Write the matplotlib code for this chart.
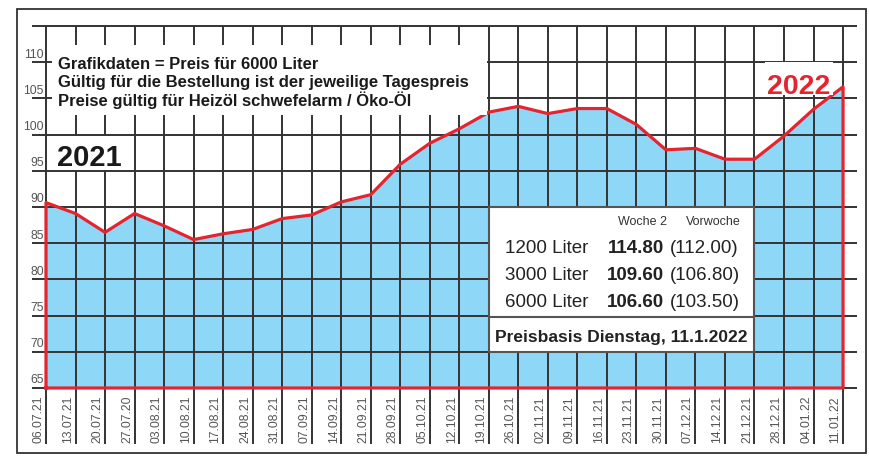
import matplotlib
matplotlib.use('Agg')
import matplotlib.pyplot as plt
from matplotlib.patches import Rectangle
from matplotlib.transforms import Affine2D

# Heizoelpreise, Preis fuer 6000 Liter
dates = ['06.07.21', '13.07.21', '20.07.21', '27.07.20', '03.08.21', '10.08.21',
         '17.08.21', '24.08.21', '31.08.21', '07.09.21', '14.09.21', '21.09.21',
         '28.09.21', '05.10.21', '12.10.21', '19.10.21', '26.10.21', '02.11.21',
         '09.11.21', '16.11.21', '23.11.21', '30.11.21', '07.12.21', '14.12.21',
         '21.12.21', '28.12.21', '04.01.22', '11.01.22']
prices = [90.6, 89.1, 86.5, 89.1, 87.4, 85.5, 86.3, 86.9, 88.4, 88.9, 90.7, 91.7,
          95.9, 98.8, 100.8, 103.1, 103.9, 102.9, 103.6, 103.6, 101.4, 97.9, 98.1,
          96.6, 96.6, 99.8, 103.5, 106.6]
y_ticks = [65, 70, 75, 80, 85, 90, 95, 100, 105, 110]
y_top = 115

mengen = ['1200 Liter', '3000 Liter', '6000 Liter']
woche2 = ['114.80', '109.60', '106.60']
vorwoche = ['(112.00)', '(106.80)', '(103.50)']

header = ['Grafikdaten = Preis für 6000 Liter',
          'Gültig für die Bestellung ist der jeweilige Tagespreis',
          'Preise gültig für Heizöl schwefelarm / Öko-Öl']

W, H = 870, 460
X0, DX = 46, 29.52      # pixel of first date, pixels per week
Y0, DY = 389, 7.24      # pixel of 65, pixels per unit

BLUE = '#8fd7f7'
RED = '#e42530'
GRID = '#333333'
GRAY = '#555555'
cond = ['Liberation Sans Narrow', 'Liberation Sans', 'DejaVu Sans']
reg = ['Liberation Sans', 'DejaVu Sans']


def px(p):
    return (p - X0) / DX


def py(p):
    return 65 + (Y0 - p) / DY


fig = plt.figure(figsize=(W / 100, H / 100), dpi=100)
ax = fig.add_axes([0, 0, 1, 1])
ax.set_xlim(px(0), px(W))
ax.set_ylim(py(H), py(0))
ax.axis('off')

# pixel coordinates, origin top-left (for frames and labels)
tp = Affine2D().scale(1 / W, -1 / H).translate(0, 1) + fig.transFigure

x = list(range(len(prices)))
ax.fill_between(x, prices, 65, color=BLUE, lw=0, zorder=1)

for v in y_ticks + [y_top]:
    ax.hlines(v, px(32), px(857), color=GRID, lw=1.4, zorder=2)
for i in x:
    ax.vlines(i, py(445), y_top, color=GRID, lw=1.4, zorder=2)

xs = [0] + x + [x[-1], 0]
ys = [65] + prices + [65, 65]
ax.plot(xs, ys, color=RED, lw=2.3, zorder=3, solid_joinstyle='round')

for v in y_ticks:
    ax.text(px(44), v + 0.35, str(v), ha='right', va='bottom',
            fontsize=8.8, color=GRAY, family=cond, zorder=4)
for i, d in enumerate(dates):
    ax.text(i - 1.5 / DX, py(443), d, rotation=90, ha='right', va='bottom',
            fontsize=8.8, color=GRAY, family=cond, zorder=4)

# white boxes over the grid
ax.add_patch(Rectangle((52, 46), 435, 70, transform=tp, fc='white', ec='none', zorder=5))
ax.add_patch(Rectangle((52, 137), 71, 34, transform=tp, fc='white', ec='none', zorder=5))
ax.add_patch(Rectangle((765, 63), 68, 33, transform=tp, fc='white', ec='none', zorder=5))

for k, line in enumerate(header):
    ax.text(58, 69 + k * 18.5, line, transform=tp, ha='left', va='baseline',
            fontsize=12, fontweight='bold', color='#1a1a1a', family=reg, zorder=6)

ax.text(57, 166, '2021', transform=tp, ha='left', va='baseline', fontsize=21,
        fontweight='bold', color='#1a1a1a', family=reg, zorder=6)
ax.text(767, 93.5, '2022', transform=tp, ha='left', va='baseline', fontsize=20.5,
        fontweight='bold', color=RED, family=reg, zorder=6)

# price box
ax.add_patch(Rectangle((489, 208), 265, 145, transform=tp, fc='white', ec='#555555',
                       lw=1.5, zorder=5))
ax.plot([489, 754], [318, 318], transform=tp, color='#555555', lw=1.5, zorder=6)
ax.text(643, 225, 'Woche 2', transform=tp, ha='center', va='baseline',
        fontsize=9, color='#333333', family=cond, zorder=6)
ax.text(713, 225, 'Vorwoche', transform=tp, ha='center', va='baseline',
        fontsize=9, color='#333333', family=cond, zorder=6)
for k in range(len(mengen)):
    yb = 253 + k * 27
    ax.text(505, yb, mengen[k], transform=tp, ha='left', va='baseline',
            fontsize=13.5, color='#222222', family=cond, zorder=6)
    ax.text(664, yb, woche2[k], transform=tp, ha='right', va='baseline',
            fontsize=13.5, fontweight='bold', color='#222222', family=cond, zorder=6)
    ax.text(670, yb, vorwoche[k], transform=tp, ha='left', va='baseline',
            fontsize=13.5, color='#222222', family=cond, zorder=6)
ax.text(621, 342, 'Preisbasis Dienstag, 11.1.2022', transform=tp, ha='center',
        va='baseline', fontsize=12.5, fontweight='bold', color='#222222',
        family=cond, zorder=6)

# outer frame
ax.add_patch(Rectangle((17, 10), 849, 444, transform=tp, fc='none', ec='#333333',
                       lw=1.3, zorder=7))

fig.savefig('out.png', dpi=100)
